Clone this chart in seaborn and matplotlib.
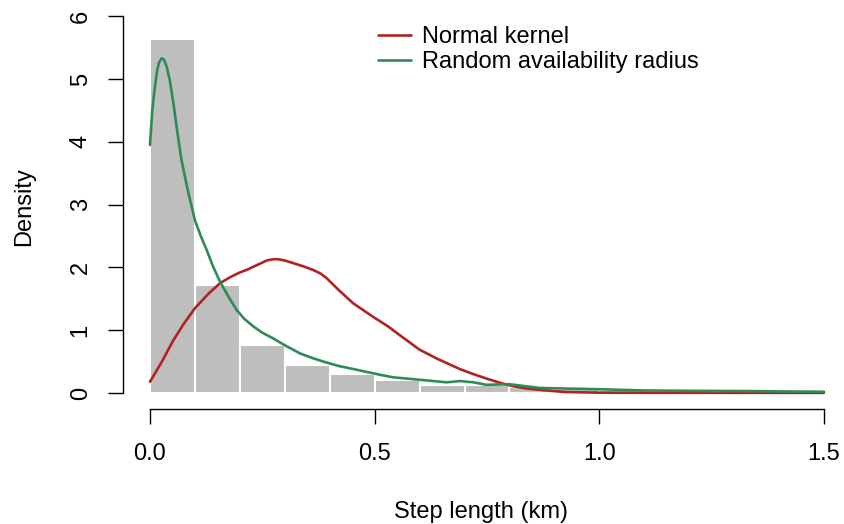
import numpy as np
import pandas as pd
import matplotlib
matplotlib.use('Agg')
import matplotlib.pyplot as plt
import seaborn as sns

# histogram of observed step lengths (density per 0.1 km bin)
bin_edges = np.round(np.arange(0, 1.51, 0.1), 2)
bin_heights = [5.64, 1.72, 0.77, 0.45, 0.30, 0.20, 0.13, 0.12, 0.09, 0.07,
               0.05, 0.03, 0.02, 0.02, 0.01]

# density curve: normal kernel
normal_x = [0.0, 0.025, 0.052, 0.075, 0.1, 0.13, 0.156, 0.18, 0.2, 0.215,
            0.23, 0.245, 0.26, 0.274, 0.285, 0.3, 0.318, 0.34, 0.363, 0.38,
            0.393, 0.42, 0.452, 0.497, 0.53, 0.556, 0.6, 0.638, 0.69, 0.72,
            0.749, 0.78, 0.808, 0.84, 0.868, 0.9, 0.927, 1.0, 1.1, 1.2, 1.3,
            1.4, 1.5]
normal_y = [0.18, 0.48, 0.84, 1.10, 1.35, 1.58, 1.75, 1.85, 1.92, 1.96,
            2.01, 2.06, 2.11, 2.13, 2.13, 2.11, 2.07, 2.02, 1.96, 1.90,
            1.83, 1.64, 1.43, 1.21, 1.06, 0.92, 0.69, 0.55, 0.38, 0.30,
            0.23, 0.16, 0.11, 0.07, 0.05, 0.03, 0.015, 0.005, 0.003,
            0.003, 0.002, 0.002, 0.002]

# density curve: random availability radius
random_x = [0.0, 0.005, 0.011, 0.016, 0.02, 0.026, 0.031, 0.037, 0.044, 0.052,
            0.06, 0.07, 0.085, 0.1, 0.113, 0.126, 0.14, 0.156, 0.175, 0.193,
            0.21, 0.23, 0.25, 0.274, 0.3, 0.334, 0.36, 0.386, 0.42, 0.46,
            0.512, 0.541, 0.601, 0.66, 0.69, 0.72, 0.749, 0.80, 0.868, 0.93,
            1.0, 1.1, 1.2, 1.34, 1.4, 1.5]
random_y = [3.95, 4.50, 4.88, 5.14, 5.26, 5.33, 5.31, 5.20, 4.98, 4.62,
            4.20, 3.71, 3.20, 2.75, 2.50, 2.28, 2.02, 1.77, 1.53, 1.32,
            1.18, 1.06, 0.96, 0.87, 0.76, 0.63, 0.56, 0.50, 0.43, 0.37,
            0.29, 0.25, 0.21, 0.17, 0.19, 0.17, 0.13, 0.14, 0.08, 0.07,
            0.06, 0.04, 0.035, 0.03, 0.025, 0.02]

bin_centers = (bin_edges[:-1] + bin_edges[1:]) / 2
df_hist = pd.DataFrame({'x': bin_centers, 'h': bin_heights})
df_norm = pd.DataFrame({'x': normal_x, 'y': normal_y})
df_rand = pd.DataFrame({'x': random_x, 'y': random_y})

sns.set_style('white')
plt.rcParams['font.family'] = ['Liberation Sans', 'DejaVu Sans']
plt.rcParams['text.color'] = 'black'
plt.rcParams['axes.labelcolor'] = 'black'
plt.rcParams['xtick.color'] = 'black'
plt.rcParams['ytick.color'] = 'black'

fig = plt.figure(figsize=(8.44, 5.24), dpi=100)
ax = fig.add_axes([123 / 844, 1 - 409 / 524, (840 - 123) / 844, (409 - 5) / 524])

sns.histplot(data=df_hist, x='x', weights='h', binwidth=0.1, binrange=(0, 1.5),
             stat='count', color='#BEBEBE', edgecolor='white', linewidth=1.5,
             alpha=1, ax=ax)
sns.lineplot(data=df_norm, x='x', y='y', color='#B22222', linewidth=1.9,
             label='Normal kernel', ax=ax)
sns.lineplot(data=df_rand, x='x', y='y', color='#2E8B57', linewidth=1.9,
             label='Random availability radius', ax=ax)

ax.set_xlim((123 - 150) / 449.3, (840 - 150) / 449.3)
ax.set_ylim(-(409 - 393) / 62.8, (393 - 5) / 62.8)

for side in ['top', 'right']:
    ax.spines[side].set_visible(False)
ax.spines['left'].set_bounds(0, 6)
ax.spines['bottom'].set_bounds(0, 1.5)
for side in ['left', 'bottom']:
    ax.spines[side].set_color('black')
    ax.spines[side].set_linewidth(1)

ax.set_xticks([0, 0.5, 1.0, 1.5])
ax.set_xticklabels(['0.0', '0.5', '1.0', '1.5'])
ax.set_yticks(range(0, 7))
ax.tick_params(axis='both', which='major', direction='out', length=10.5, width=1,
               color='black', labelsize=17, left=True, bottom=True)
ax.tick_params(axis='x', pad=14)
ax.tick_params(axis='y', pad=12)
for lab in ax.get_yticklabels():
    lab.set_rotation(90)
    lab.set_va('center')

ax.set_xlabel('Step length (km)', fontsize=17, labelpad=26)
ax.set_ylabel('Density', fontsize=17, labelpad=25)

ax.legend(loc='upper left', bbox_to_anchor=(378 / 844, 1 - 26 / 524),
          bbox_transform=fig.transFigure, frameon=False, fontsize=17,
          handlelength=1.4, handletextpad=0.45, labelspacing=0.12,
          borderpad=0, borderaxespad=0)

fig.savefig('out.png', dpi=100, facecolor='white')
